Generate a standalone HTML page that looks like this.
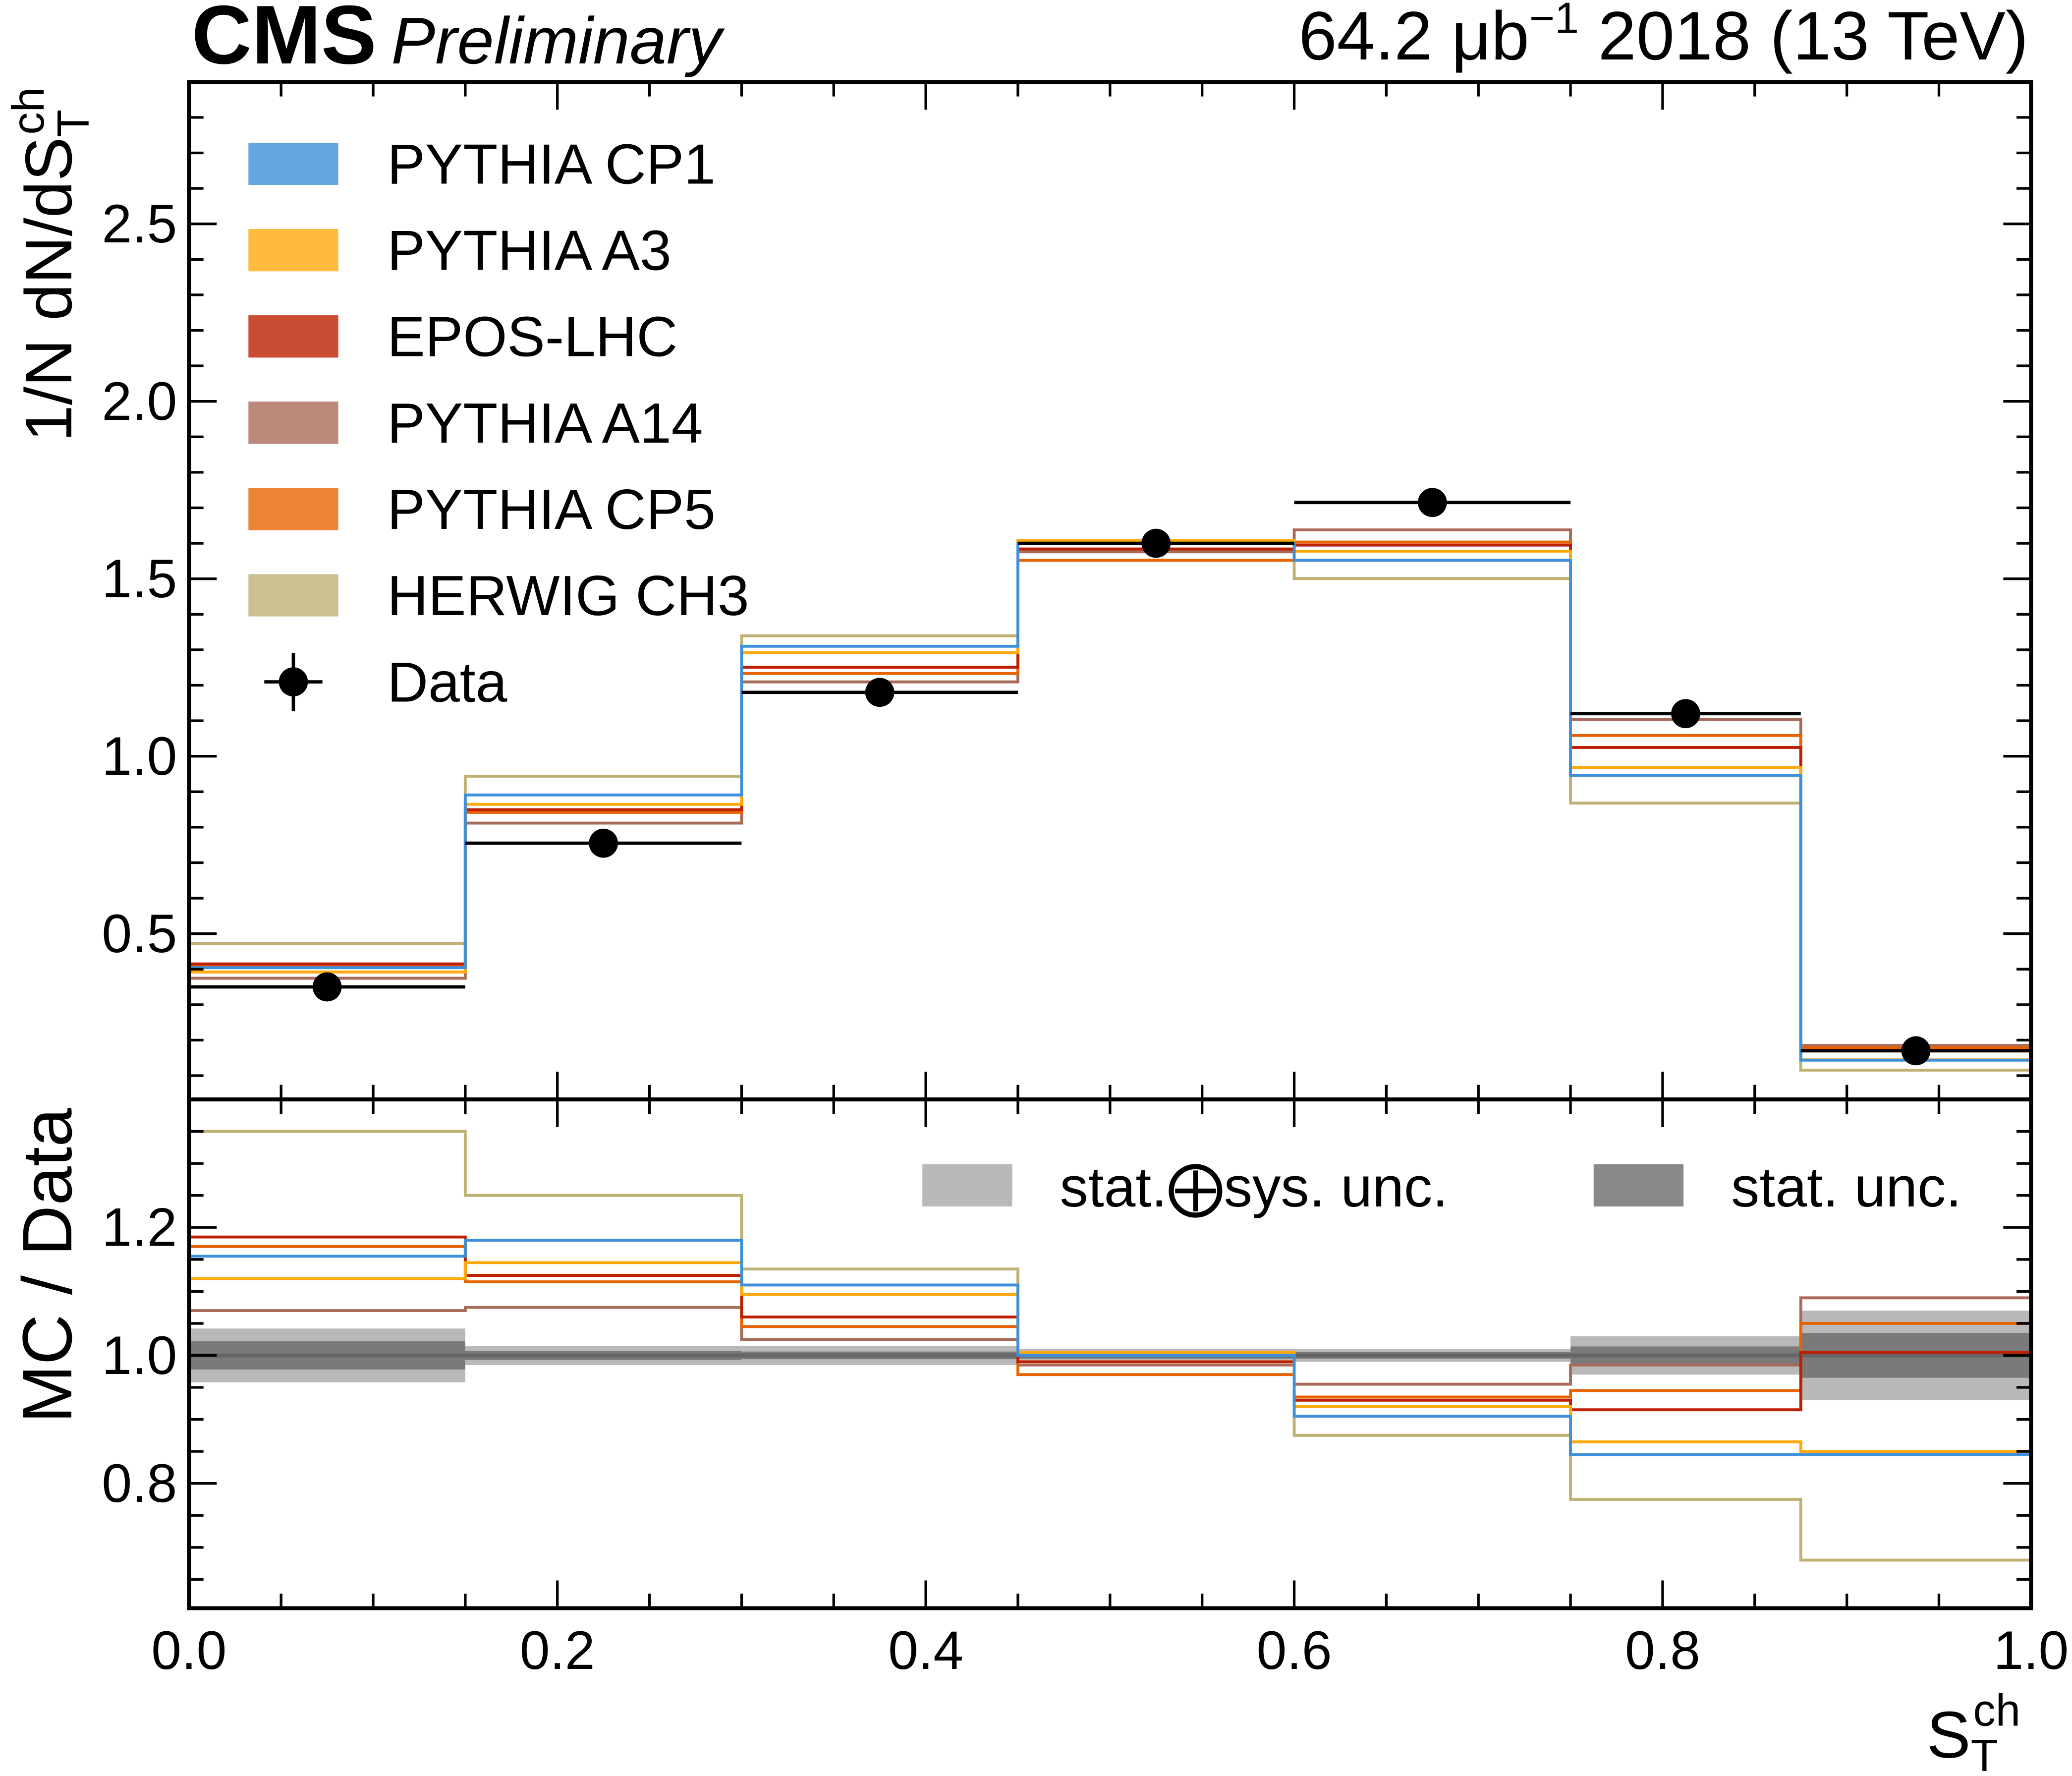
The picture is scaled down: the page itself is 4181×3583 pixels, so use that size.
<!DOCTYPE html>
<html><head><meta charset="utf-8"><style>
html,body{margin:0;padding:0;background:#fff}
svg{display:block}
text{font-family:"Liberation Sans",Arial,sans-serif;fill:#000}
</style></head><body>
<svg id="c" width="4181" height="3583" viewBox="0 0 1568 1344" preserveAspectRatio="none" xmlns="http://www.w3.org/2000/svg">
<g id="bands"></g>
<g id="mc"></g>
<g id="dat"></g>
<g id="ax"></g>
<text x="145" y="48" font-size="63" font-weight="bold">CMS</text>
<text x="296" y="48" font-size="50" font-style="italic">Preliminary</text>
<text x="1535" y="45" font-size="52" text-anchor="end">64.2 μb<tspan font-size="33" dy="-20">−1</tspan><tspan dy="20"> 2018 (13 TeV)</tspan></text>
<text transform="translate(54,66) rotate(-90)" font-size="50" text-anchor="end">1/N dN/dS<tspan font-size="34" dy="13">T</tspan><tspan font-size="34" dx="-19" dy="-34">ch</tspan></text>
<text transform="translate(54,1077) rotate(-90)" font-size="53">MC / Data</text>
<text x="1458" y="1330" font-size="50">S<tspan font-size="34" dy="10">T</tspan><tspan font-size="34" dx="-19" dy="-34">ch</tspan></text>
<g id="leg"></g>
<g>
<rect x="698" y="881" width="68" height="32" fill="#b9b9b9"/>
<text x="802" y="913" font-size="43">stat.⨁sys. unc.</text>
<rect x="1206" y="881" width="68" height="32" fill="#898989"/>
<text x="1310" y="913" font-size="43">stat. unc.</text>
</g>
</svg>
<script>
const edges=[0,0.15,0.3,0.45,0.6,0.75,0.875,1.0];
const dataVals=[0.35,0.755,1.18,1.60,1.715,1.12,0.17];
const names=["PYTHIA CP1","PYTHIA A3","EPOS-LHC","PYTHIA A14","PYTHIA CP5","HERWIG CH3"];
const colors=["#3f90da","#ffa90e","#bd1f01","#a96b59","#e76300","#bfb173"];
const legColors=["#65a6e1","#ffbb3e","#ca4c34","#bb8a7b","#ec8335","#cbc193"];
const rCP1=[1.155,1.18,1.11,1.0,0.905,0.845,0.845];
const rA3=[1.12,1.145,1.095,1.005,0.92,0.865,0.85];
const rEPOS=[1.185,1.125,1.06,0.99,0.93,0.915,1.005];
const rA14=[1.07,1.075,1.025,0.985,0.955,0.985,1.09];
const rCP5=[1.17,1.115,1.045,0.97,0.935,0.945,1.05];
const rH=[1.35,1.25,1.135,1.005,0.875,0.775,0.68];
const ratios=[rCP1,rA3,rEPOS,rA14,rCP5,rH];
const uncTot=[0.042,0.015,0.015,0.01,0.01,0.03,0.07];
const uncStat=[0.022,0.007,0.006,0.005,0.005,0.014,0.035];
const xTicks=[0,0.2,0.4,0.6,0.8,1.0];
const xTickLabels=["0.0","0.2","0.4","0.6","0.8","1.0"];
const yTicks=[0.5,1.0,1.5,2.0,2.5];
const rTicks=[0.8,1.0,1.2];
const NS="http://www.w3.org/2000/svg";
const L=143,R=1537,T=62,M=832,B=1217;
const X=v=>L+(R-L)*v;
const Y=v=>M-(M-T)*(v-0.033)/(2.9-0.033);
const YR=v=>B-(B-M)*(v-0.605)/(1.4-0.605);
function mk(p,tag,at){const e=document.createElementNS(NS,tag);for(const k in at)e.setAttribute(k,at[k]);p.appendChild(e);return e;}
const bands=document.getElementById('bands'),mc=document.getElementById('mc'),dat=document.getElementById('dat'),ax=document.getElementById('ax'),leg=document.getElementById('leg');
for(let i=0;i<7;i++){
 const a=mk(bands,'rect',{x:X(edges[i]),y:YR(1+uncTot[i]),width:X(edges[i+1])-X(edges[i]),height:YR(1-uncTot[i])-YR(1+uncTot[i]),fill:'#b9b9b9'});
 
 const b=mk(bands,'rect',{x:X(edges[i]),y:YR(1+uncStat[i]),width:X(edges[i+1])-X(edges[i]),height:YR(1-uncStat[i])-YR(1+uncStat[i]),fill:'#7a7a7a'});
 
}
mk(bands,'line',{x1:L,x2:R,y1:YR(1),y2:YR(1),stroke:'#666',"stroke-width":3});
function stepPath(vals,fy){let d='';for(let i=0;i<7;i++){const y=fy(vals[i]);d+=(i?'L':'M')+X(edges[i])+' '+y+'L'+X(edges[i+1])+' '+y;}return d;}
[5,3,4,2,1,0].forEach(s=>{
 const top=ratios[s].map((r,i)=>r*dataVals[i]);
 const p=mk(mc,'path',{d:stepPath(top,Y),fill:'none',stroke:colors[s],"stroke-width":2.2});
 
 const q=mk(mc,'path',{d:stepPath(ratios[s],YR),fill:'none',stroke:colors[s],"stroke-width":2.2});
 
});
for(let i=0;i<7;i++){
 const y=Y(dataVals[i]),c=(X(edges[i])+X(edges[i+1]))/2;
 mk(dat,'line',{x1:X(edges[i]),x2:X(edges[i+1]),y1:y,y2:y,stroke:'#000',"stroke-width":2.5});
 const m=mk(dat,'circle',{cx:c,cy:y,r:11,fill:'#000'});
 
}
mk(ax,'rect',{x:L,y:T,width:R-L,height:M-T,fill:'none',stroke:'#000',"stroke-width":3});
mk(ax,'rect',{x:L,y:M,width:R-L,height:B-M,fill:'none',stroke:'#000',"stroke-width":3});
for(let v=0;v<=1.0001;v+=0.05){
 const major=Math.abs(v*5-Math.round(v*5))<1e-6;const len=major?21:11;const x=X(v);
 [[T,1],[M,-1],[M,1],[B,-1]].forEach(([y0,d])=>mk(ax,'line',{x1:x,x2:x,y1:y0,y2:y0+d*len,stroke:'#000',"stroke-width":2}));
}
xTicks.forEach((v,i)=>{const t=mk(ax,'text',{x:X(v),y:1263,"font-size":41,"text-anchor":"middle"});t.textContent=xTickLabels[i];});
for(let k=1;k<=28;k++){const v=k/10;const y=Y(v);if(y<T||y>M)continue;const major=k%5==0;const len=major?21:11;
 mk(ax,'line',{x1:L,x2:L+len,y1:y,y2:y,stroke:'#000',"stroke-width":2});mk(ax,'line',{x1:R,x2:R-len,y1:y,y2:y,stroke:'#000',"stroke-width":2});}
yTicks.forEach(v=>{const t=mk(ax,'text',{x:134,y:Y(v)+14,"font-size":41,"text-anchor":"end"});t.textContent=v.toFixed(1);});
for(let k=13;k<=28;k++){const v=k/20;const y=YR(v);if(y<M+2||y>B-2)continue;const major=k%4==0;const len=major?21:11;
 mk(ax,'line',{x1:L,x2:L+len,y1:y,y2:y,stroke:'#000',"stroke-width":2});mk(ax,'line',{x1:R,x2:R-len,y1:y,y2:y,stroke:'#000',"stroke-width":2});}
rTicks.forEach(v=>{const t=mk(ax,'text',{x:134,y:YR(v)+14,"font-size":41,"text-anchor":"end"});t.textContent=v.toFixed(1);});
names.forEach((n,i)=>{const cy=124+i*65.3;
 const r=mk(leg,'rect',{x:188,y:cy-16,width:68,height:32,fill:legColors[i]});
 const t=mk(leg,'text',{x:293,y:cy+15,"font-size":43});t.textContent=n;});
{const cy=516;mk(leg,'line',{x1:200,x2:244,y1:cy,y2:cy,stroke:'#000',"stroke-width":2.5});mk(leg,'line',{x1:222,x2:222,y1:cy-22,y2:cy+22,stroke:'#000',"stroke-width":2.5});
 mk(leg,'circle',{cx:222,cy:cy,r:11,fill:'#000'});const t=mk(leg,'text',{x:293,y:cy+15,"font-size":43});t.textContent='Data';}
</script>
</body></html>
